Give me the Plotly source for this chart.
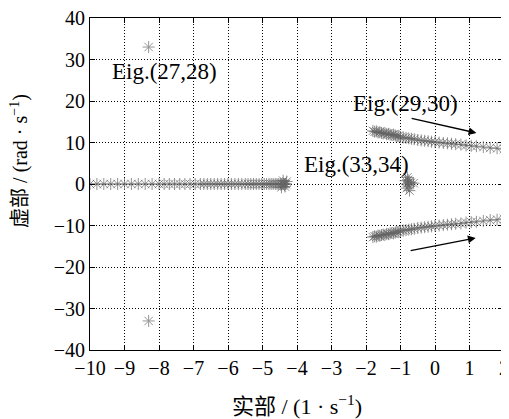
import plotly.graph_objects as go

# Eigenvalue trajectories (real part, imaginary part)
real_branch_x = [-10.0, -9.8, -9.6, -9.4, -9.2, -9.0, -8.8, -8.6, -8.4, -8.2, -8.0, -7.85, -7.7,
                 -7.55, -7.4, -7.25, -7.1, -6.95, -6.8, -6.7, -6.6, -6.5, -6.4, -6.3, -6.2, -6.1,
                 -6.0, -5.9, -5.8, -5.7, -5.6, -5.5, -5.42, -5.34, -5.26, -5.18, -5.1, -5.02,
                 -4.95, -4.88, -4.81, -4.75, -4.69, -4.63, -4.58, -4.53, -4.48, -4.44, -4.4,
                 -4.37, -4.34, -4.32, -4.3, -4.35, -4.4, -4.45]
real_branch_y = [0.0] * 52 + [0.6, -0.6, 0.8, -0.8]

upper_x = [-1.8, -1.75, -1.7, -1.65, -1.6, -1.55, -1.5, -1.45, -1.4, -1.35, -1.3, -1.25, -1.2,
           -1.15, -1.1, -1.05, -1.0, -0.92, -0.84, -0.76, -0.68, -0.6, -0.5, -0.4, -0.3, -0.2,
           -0.1, 0.0, 0.12, 0.24, 0.36, 0.48, 0.6, 0.75, 0.9, 1.05, 1.2, 1.4, 1.6, 1.8, 2.0]
upper_y = [12.8, 12.6, 12.7, 12.4, 12.5, 12.3, 12.2, 12.3, 12.0, 12.1, 11.9, 11.8, 11.9, 11.7,
           11.5, 11.6, 11.3, 11.2, 11.1, 11.0, 10.9, 10.8, 10.6, 10.5, 10.4, 10.3, 10.2, 10.1,
           10.0, 9.9, 9.8, 9.7, 9.6, 9.5, 9.3, 9.2, 9.1, 8.9, 8.7, 8.6, 8.4]
lower_x = upper_x
lower_y = [-v for v in upper_y]

eig3334_x = [-0.8, -0.78, -0.75, -0.8, -0.77, -0.82, -0.7, -0.62, -0.85, -0.74]
eig3334_y = [1.6, 1.0, 0.5, 0.0, -0.5, -1.0, 0.3, 0.2, 0.8, -1.6]

eig2728_x = [-8.3, -8.3]
eig2728_y = [33.0, -33.0]

font_main = "Liberation Serif, Times New Roman, Noto Sans CJK SC, serif"

marker = dict(symbol="asterisk-open", size=10, color="rgba(100,100,100,0.7)",
              line=dict(color="rgba(100,100,100,0.7)", width=1))

fig = go.Figure()
for xs, ys in [(real_branch_x, real_branch_y), (upper_x, upper_y), (lower_x, lower_y),
               (eig3334_x, eig3334_y)]:
    fig.add_trace(go.Scatter(x=xs, y=ys, mode="markers", marker=marker,
                             showlegend=False, cliponaxis=True))
fig.add_trace(go.Scatter(x=eig2728_x, y=eig2728_y, mode="markers",
                         marker=dict(symbol="asterisk-open", size=10, color="rgb(150,150,150)",
                                     line=dict(color="rgb(150,150,150)", width=1)),
                         showlegend=False))

annotations = [
    dict(x=-7.83, y=27.0, text="Eig.(27,28)"),
    dict(x=-0.86, y=19.5, text="Eig.(29,30)"),
    dict(x=-2.28, y=4.8, text="Eig.(33,34)"),
]
ann = [dict(a, xref="x", yref="y", showarrow=False,
            font=dict(family=font_main, size=23, color="black")) for a in annotations]
# arrows
ann.append(dict(x=1.2, y=12.3, ax=-0.72, ay=15.9, xref="x", yref="y", axref="x", ayref="y",
                text="", showarrow=True, arrowhead=2, arrowsize=1.2, arrowwidth=1.3,
                arrowcolor="black"))
ann.append(dict(x=1.18, y=-13.0, ax=-0.75, ay=-16.1, xref="x", yref="y", axref="x", ayref="y",
                text="", showarrow=True, arrowhead=2, arrowsize=1.2, arrowwidth=1.3,
                arrowcolor="black"))
# y-axis title (placed as in the reference, slightly above the plot centre)
ann.append(dict(x=-0.172, y=0.569, xref="paper", yref="paper", xanchor="center",
                yanchor="middle", textangle=-90, showarrow=False,
                text="虚部 / (rad · s<sup>−1</sup>)",
                font=dict(family=font_main, size=20, color="black")))

axis_common = dict(showline=True, linecolor="black", linewidth=1, mirror="ticks",
                   ticks="inside", ticklen=5, tickcolor="black", automargin=False,
                   ticklabeloverflow="allow",
                   showgrid=True, gridcolor="black", griddash="1px,2px", gridwidth=1,
                   zeroline=False, tickfont=dict(family=font_main, size=20, color="black"))

# page body has an 8px default margin, so the figure is sized to fit the 509x419 window
fig.update_layout(
    width=501, height=411,
    margin=dict(l=82, r=5, t=10, b=69, autoexpand=False),
    paper_bgcolor="white", plot_bgcolor="white",
    xaxis=dict(range=[-10, 2], dtick=1, tick0=-10,
               title=dict(text="实部 / (1 · s<sup>−1</sup>)", standoff=22,
                          font=dict(family=font_main, size=22, color="black")),
               **axis_common),
    yaxis=dict(range=[-40, 40], dtick=10, **axis_common),
    annotations=ann,
)

fig.write_html("out.html")
